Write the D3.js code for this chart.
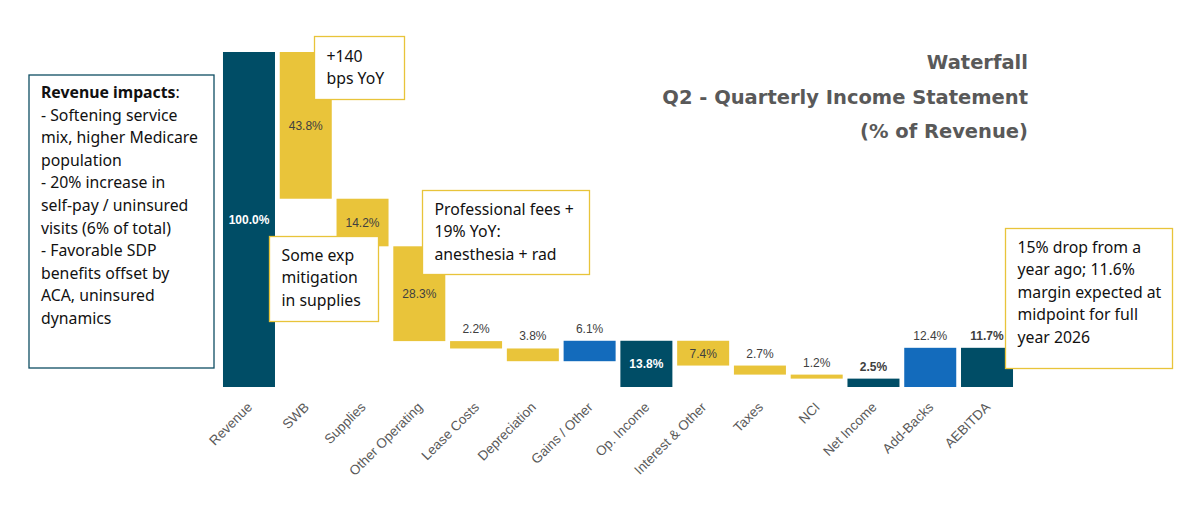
<!DOCTYPE html>
<html>
<head>
<meta charset="utf-8">
<script src="https://cdn.jsdelivr.net/npm/d3@7"></script>
<style>
  body { margin: 0; background: #fff; }
  svg { display: block; }
</style>
</head>
<body>
<svg id="chart"></svg>
<script>
// waterfall data, % of revenue
var categories = ["Revenue", "SWB", "Supplies", "Other Operating", "Lease Costs",
                  "Depreciation", "Gains / Other", "Op. Income", "Interest & Other",
                  "Taxes", "NCI", "Net Income", "Add-Backs", "AEBITDA"];
var values    = [100.0, 43.8, 14.2, 28.3, 2.2, 3.8, 6.1, 13.8, 7.4, 2.7, 1.2, 2.5, 12.4, 11.7];
var barStart  = [0, 56.2, 42.0, 13.7, 11.5, 7.7, 7.7, 0, 6.4, 3.7, 2.5, 0, 0, 0];
var barEnd    = [100, 100, 56.2, 42.0, 13.7, 11.5, 13.8, 13.8, 13.8, 6.4, 3.7, 2.5, 11.7, 11.7];
var barType   = ["total", "down", "down", "down", "down", "down", "up", "total",
                 "down", "down", "down", "total", "up", "total"];
var labelInside = [true, true, true, true, false, false, false, true, true,
                   false, false, false, false, false];

var notes = [
  { x: 29, y: 75, w: 185, h: 293, stroke: "#0f4e63", tx: 12, ty: 23,
    lines: [["Revenue impacts", ":"], "- Softening service", "mix, higher Medicare", "population",
            "- 20% increase in", "self-pay / uninsured", "visits (6% of total)",
            "- Favorable SDP", "benefits offset by", "ACA, uninsured", "dynamics"] },
  { x: 314.5, y: 36.5, w: 90, h: 63, stroke: "#e8c43a", tx: 12, ty: 25,
    lines: ["+140", "bps YoY"] },
  { x: 269.5, y: 236.5, w: 109, h: 85, stroke: "#e8c43a", tx: 12, ty: 24,
    lines: ["Some exp", "mitigation", "in supplies"] },
  { x: 422.5, y: 190.5, w: 167, h: 84, stroke: "#e8c43a", tx: 12, ty: 24,
    lines: ["Professional fees +", "19% YoY:", "anesthesia + rad"] },
  { x: 1005.5, y: 228.5, w: 167, h: 140, stroke: "#e8c43a", tx: 12, ty: 24,
    lines: ["15% drop from a", "year ago; 11.6%", "margin expected at", "midpoint for full", "year 2026"] }
];

var titleLines = ["Waterfall", "Q2 - Quarterly Income Statement", "(% of Revenue)"];

var width = 1203, height = 514;
var colors = { total: "#004d66", down: "#e9c43a", up: "#136bbc" };

var svg = d3.select("#chart")
            .attr("width", width)
            .attr("height", height);

var x = d3.scaleBand()
          .domain(categories)
          .range([220.6, 1015.4])
          .paddingInner(0.084)
          .paddingOuter(0.042);

var y = d3.scaleLinear()
          .domain([0, 100])
          .range([387, 52]);

var data = categories.map((c, i) => ({
  cat: c, value: values[i], start: barStart[i], end: barEnd[i],
  type: barType[i], inside: labelInside[i]
}));

svg.append("g")
    .selectAll("rect")
    .data(data)
    .enter()
    .append("rect")
      .attr("x", d => x(d.cat))
      .attr("width", x.bandwidth())
      .attr("y", d => y(d.end))
      .attr("height", d => y(d.start) - y(d.end))
      .attr("fill", d => colors[d.type]);

// value labels
svg.append("g")
    .selectAll("text")
    .data(data)
    .enter()
    .append("text")
      .attr("x", d => x(d.cat) + x.bandwidth() / 2)
      .attr("y", d => d.inside ? (y(d.start) + y(d.end)) / 2 + 4.5 : y(d.end) - 8)
      .attr("text-anchor", "middle")
      .attr("font-family", "Liberation Sans, Arial, sans-serif")
      .attr("font-size", "12px")
      .attr("font-weight", d => d.type === "total" ? "bold" : "normal")
      .attr("fill", d => (d.inside && d.type === "total") ? "#ffffff" : "#404040")
      .text(d => d.value.toFixed(1) + "%");

// category axis, rotated labels, no line
var xAxis = svg.append("g")
    .attr("transform", "translate(0," + y(0) + ")")
    .call(d3.axisBottom(x).tickSize(0).tickPadding(0));
xAxis.select(".domain").remove();
xAxis.selectAll("text")
    .attr("font-family", "Liberation Sans, Arial, sans-serif")
    .attr("font-size", "13.5px")
    .attr("fill", "#595959")
    .attr("text-anchor", "end")
    .attr("dy", 0)
    .attr("transform", "translate(4,21) rotate(-45)");

// title
svg.append("g")
    .selectAll("text")
    .data(titleLines)
    .enter()
    .append("text")
      .attr("x", 1028)
      .attr("y", (d, i) => 69 + i * 34.5)
      .attr("text-anchor", "end")
      .attr("font-family", "DejaVu Sans, sans-serif")
      .attr("font-weight", "bold")
      .attr("font-size", "19.5px")
      .attr("fill", "#595959")
      .text(d => d);

// annotation boxes
var box = svg.append("g")
    .selectAll("g")
    .data(notes)
    .enter()
    .append("g")
      .attr("transform", d => "translate(" + d.x + "," + d.y + ")");

box.append("rect")
    .attr("width", d => d.w)
    .attr("height", d => d.h)
    .attr("fill", "#fff")
    .attr("stroke", d => d.stroke)
    .attr("stroke-width", 1.3);

box.each(function(d) {
  var t = d3.select(this).append("text")
      .attr("font-family", "Noto Sans, sans-serif")
      .attr("font-size", "15.8px")
      .attr("fill", "#111");
  d.lines.forEach((ln, i) => {
    var ts = t.append("tspan")
        .attr("x", d.tx)
        .attr("y", d.ty + i * 22.6);
    if (Array.isArray(ln)) {
      ts.attr("font-weight", "bold").text(ln[0]);
      t.append("tspan").text(ln[1]);
    } else {
      ts.text(ln);
    }
  });
});
</script>
</body>
</html>
